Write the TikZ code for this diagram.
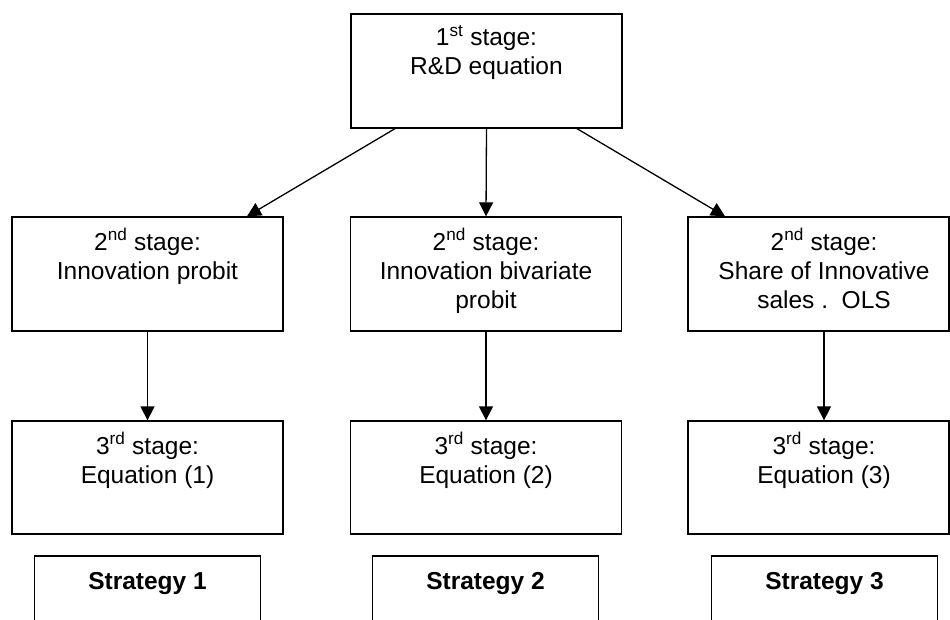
\documentclass[tikz,border=0pt]{standalone}
\usepackage{fontspec}
\setmainfont{Liberation Sans}
\usetikzlibrary{arrows.meta}
\begin{document}
\begin{tikzpicture}[x=1pt,y=-1pt,
 box/.style={draw, line width=1.3pt, inner sep=0pt, rectangle},
 stagebox/.style={box, minimum width=271pt, minimum height=114pt},
 stratbox/.style={box, minimum width=226pt, minimum height=84pt},
 txt/.style={align=center, inner sep=0pt, font=\fontsize{24.5}{29}\selectfont, anchor=north},
 btxt/.style={txt, font=\fontsize{24.5}{29}\selectfont\bfseries},
 arr/.style={line width=1.3pt, -{Triangle[length=14pt,width=14pt]}}]
\useasboundingbox (0,0) rectangle (950,619);
% boxes
\node[stagebox] (s1) at (486.5,71) {};
\node[stagebox] (l2) at (147.5,274) {};
\node[stagebox] (m2) at (486,274) {};
\node[stagebox, minimum width=261pt] (r2) at (818.5,274) {};
\node[stagebox, minimum height=113pt] (l3) at (147.5,477.5) {};
\node[stagebox, minimum height=113pt] (m3) at (486,477.5) {};
\node[stagebox, minimum height=113pt, minimum width=261pt] (r3) at (818.5,477.5) {};
\node[stratbox] (t1) at (147.5,598) {};
\node[stratbox] (t2) at (485.5,598) {};
\node[stratbox] (t3) at (824.5,598) {};
% texts
\node[txt] (s1t) at ([yshift=-12pt]s1.north) {1\textsuperscript{st} stage:\\R\&D equation};
\node[txt] (l2t) at ([yshift=-12pt]l2.north) {2\textsuperscript{nd} stage:\\Innovation probit};
\node[txt] (m2t) at ([yshift=-12pt]m2.north) {2\textsuperscript{nd} stage:\\Innovation bivariate\\probit};
\node[txt] (r2t) at ([xshift=5.5pt,yshift=-12pt]r2.north) {2\textsuperscript{nd} stage:\\Share of Innovative\\sales .\ \ OLS};
\node[txt] (l3t) at ([yshift=-12pt]l3.north) {3\textsuperscript{rd} stage:\\Equation (1)};
\node[txt] (m3t) at ([yshift=-12pt]m3.north) {3\textsuperscript{rd} stage:\\Equation (2)};
\node[txt] (r3t) at ([xshift=5.5pt,yshift=-12pt]r3.north) {3\textsuperscript{rd} stage:\\Equation (3)};
\node[btxt] (t1t) at ([yshift=-17pt]t1.north) {Strategy 1};
\node[btxt] (t2t) at ([yshift=-17pt]t2.north) {Strategy 2};
\node[btxt] (t3t) at ([yshift=-17pt]t3.north) {Strategy 3};
% arrows
\draw[arr] ([xshift=-91.5pt]s1.south) -- ([xshift=99.5pt]l2.north);
\draw[arr] (s1.south) -- (m2.north);
\draw[arr] ([xshift=90.5pt]s1.south) -- ([xshift=-93.5pt]r2.north);
\draw[arr] (l2.south) -- (l3.north);
\draw[arr] (m2.south) -- (m3.north);
\draw[arr] ([xshift=5.5pt]r2.south) -- ([xshift=5.5pt]r3.north);
\end{tikzpicture}
\end{document}
